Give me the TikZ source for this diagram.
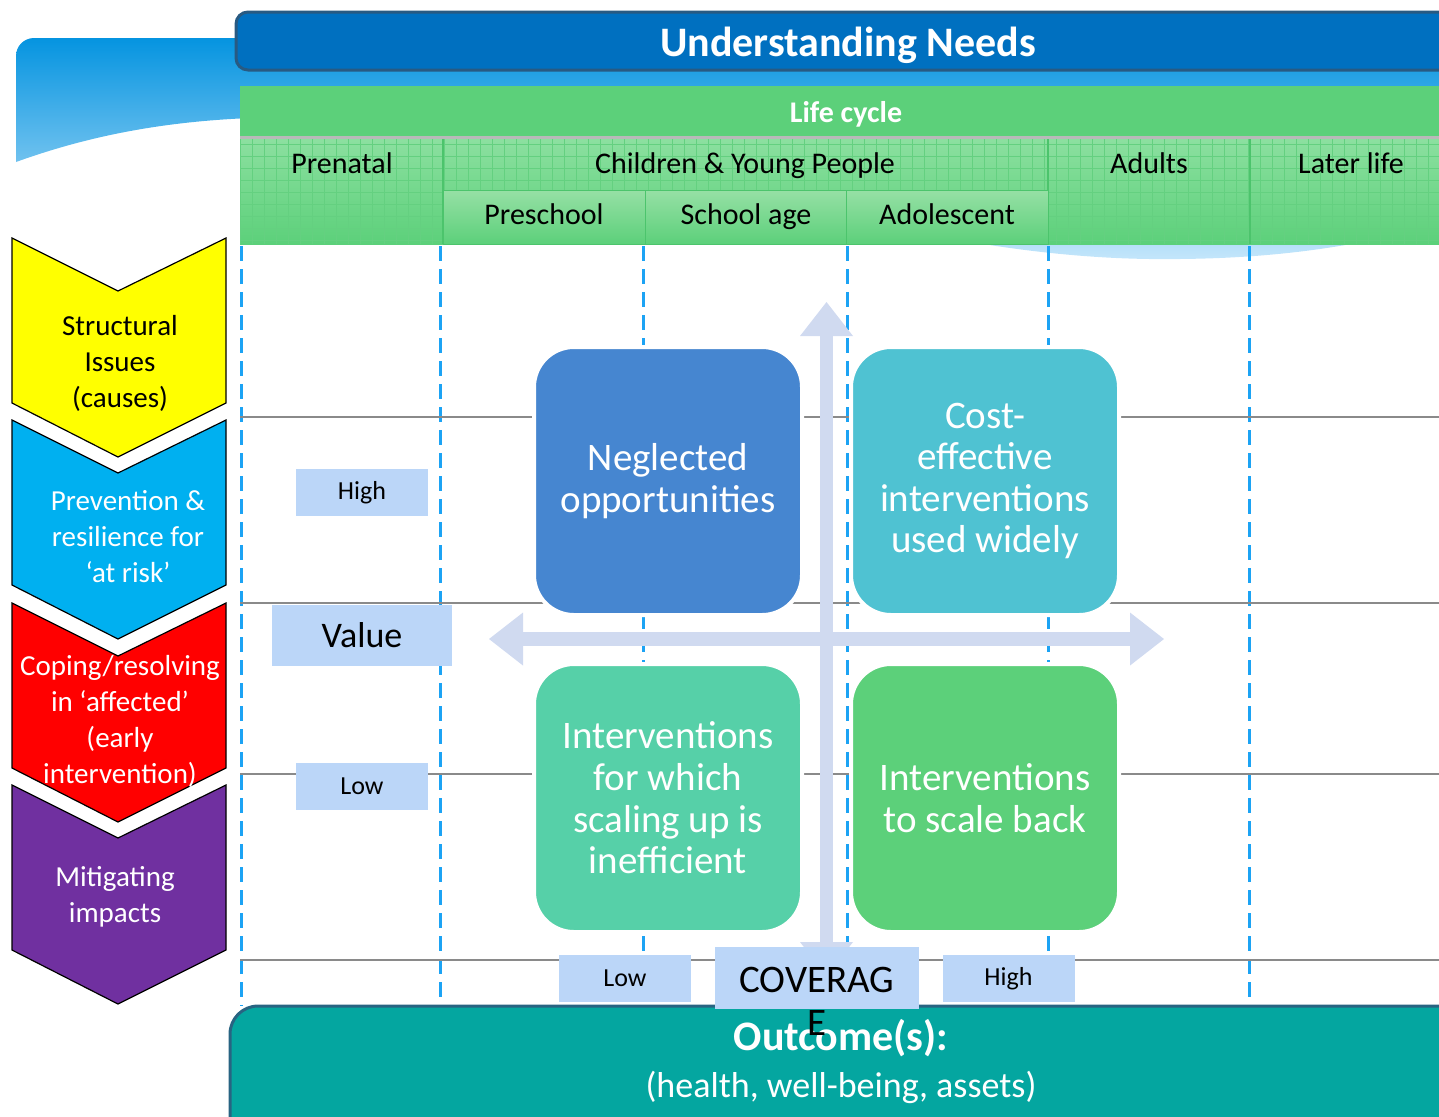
\documentclass[tikz,border=0pt]{standalone}
\usepackage{fontspec}
\setmainfont{Carlito}
\usetikzlibrary{arrows.meta,positioning}

\definecolor{hdrblue}{RGB}{0,112,192}
\definecolor{hdrline}{RGB}{40,90,130}
\definecolor{swtop}{RGB}{5,148,224}
\definecolor{swbot}{RGB}{196,230,251}
\definecolor{lifegreen}{RGB}{92,208,122}
\definecolor{celltop}{RGB}{140,224,160}
\definecolor{gridgreen}{RGB}{100,208,128}
\definecolor{subtop}{RGB}{150,224,165}
\definecolor{sepgreen}{RGB}{76,196,108}
\definecolor{dashblue}{RGB}{28,163,244}
\definecolor{rulegray}{RGB}{138,138,138}
\definecolor{axisblue}{RGB}{208,218,240}
\definecolor{lblblue}{RGB}{187,214,248}
\definecolor{qneglect}{RGB}{70,134,208}
\definecolor{qcost}{RGB}{79,194,210}
\definecolor{qscaleup}{RGB}{86,208,168}
\definecolor{qback}{RGB}{92,208,122}
\definecolor{chyellow}{RGB}{255,255,0}
\definecolor{chblue}{RGB}{0,176,240}
\definecolor{chred}{RGB}{255,0,0}
\definecolor{chpurple}{RGB}{112,48,160}
\definecolor{outteal}{RGB}{4,166,160}
\definecolor{outline}{RGB}{40,100,130}

\begin{document}
\begin{tikzpicture}[x=0.5pt,y=-0.5pt,
    title/.style={text=white, font=\bfseries\fontsize{21}{25}\selectfont},
    stage/.style={font=\fontsize{15}{18}\selectfont, text height=10.5pt, text depth=3pt},
    subcell/.style={stage, top color=subtop, bottom color=lifegreen, draw=sepgreen, line width=0.4pt,
        minimum width=101pt, minimum height=27pt, inner sep=0pt},
    quad/.style={draw=white, line width=2pt, rounded corners=20pt, minimum width=134pt, minimum height=134pt,
        text=white, align=center, inner sep=0pt, font=\fontsize{19.5}{20.8}\selectfont},
    lbl/.style={fill=lblblue, minimum width=66pt, minimum height=23.5pt, inner sep=0pt,
        font=\fontsize{13}{15}\selectfont},
    chevtxt/.style={align=center, font=\fontsize{14.5}{18}\selectfont},
    axis/.style={draw=axisblue, line width=6.75pt,
        {Triangle[width=26.5pt,length=17pt,line width=0pt]}-{Triangle[width=26.5pt,length=17pt,line width=0pt]}},
    ]
\useasboundingbox (0,0) rectangle (1439,1116);
\clip (0,0) rectangle (1439,1116);

% swoosh behind the header
\path[top color=swtop, bottom color=swbot] (16,162) .. controls (110,128) and (200,117) .. (300,117)
    .. controls (600,117) and (850,255) .. (1150,259) .. controls (1260,260) and (1340,250) .. (1439,225)
    -- (1439,38) -- (34,38) .. controls (24,38) and (16,46) .. (16,56) -- cycle;

\draw[hdrline, fill=hdrblue, line width=1.5pt, rounded corners=6pt] (236,12) rectangle (1480,70);
\node[title] (title) at (848,45) {Understanding Needs};

% life cycle bar
\fill[lifegreen] (240,86) rectangle (1439,137);
\node[text=white, font=\bfseries\fontsize{15}{18}\selectfont] (lifecycle) at (846,114) {Life cycle};
\fill[top color=celltop, bottom color=lifegreen] (240,138) rectangle (1439,244);
\draw[gridgreen, line width=0.4pt, step=6pt] (240,138) grid (1439,244);
\draw[gray!55, line width=1.5pt] (240,137.5) -- (1439,137.5);
\foreach \x in {443,1048,1250}
    \draw[sepgreen, line width=0.6pt] (\x,139) -- (\x,244);

\foreach \x/\name/\t in {342/prenatal/Prenatal, 745/cyp/Children \& Young People, 1149/adults/Adults, 1351/later/Later life}
    \node[stage] (\name) at (\x,166) {\t};
\foreach \x/\name/\t in {544/preschool/Preschool, 746/school/School age, 947/adolescent/Adolescent}
    \node[subcell] (\name) at (\x,217) {\t};

% grid of the matrix
\foreach \x in {241,440,643,847,1048,1249}
    \draw[dashblue, line width=1.5pt, dash pattern=on 7.5pt off 4pt] (\x,246) -- (\x,1006);
\foreach \y in {417,603,774,960}
    \draw[rulegray, line width=1pt] (240,\y) -- (1439,\y);

% axes
\coordinate (vtop) at (826.5,302);
\coordinate (vbot) at (826.5,976);
\coordinate (hleft) at (489,639);
\coordinate (hright) at (1164,639);
\draw[axis] (hleft) -- (hright);
\draw[axis] (vbot) -- (vtop);

\node[quad, fill=qneglect] (neglected) at (668,481) {Neglected\\opportunities};
\node[quad, fill=qcost] (costeff) at (985,481) {Cost-\\effective\\interventions\\used widely};
\node[quad, fill=qscaleup] (scaleup) at (668,798) {Interventions\\for which\\scaling up is\\inefficient};
\node[quad, fill=qback] (scaleback) at (985,798) {Interventions\\to scale back};

\node[lbl] (vhigh) at (362,492.5) {High};
\node[lbl, minimum width=90pt, minimum height=30.5pt, font=\fontsize{18}{21}\selectfont] (value) at (362,635.5) {Value};
\node[lbl] (vlow) at (362,786.5) {Low};

% levels of intervention
\foreach \y/\c in {238/chyellow,420/chblue,603/chred,785/chpurple}
    \draw[line width=0.6pt, fill=\c] (12,\y) -- (118,\y+53) -- (226,\y) -- (226,\y+165) -- (118,\y+219) -- (12,\y+165) -- cycle;
\node[chevtxt] (structural) at (120,363) {Structural\\Issues\\(causes)};
\node[chevtxt, text=white] (prevention) at (128,537) {Prevention \&\\resilience for\\‘at risk’};
\node[chevtxt, text=white] (coping) at (120,721) {Coping/resolving\\in ‘affected’\\(early\\intervention)};
\node[chevtxt, text=white] (mitigating) at (115,897) {Mitigating\\impacts};

% outcome
\draw[outline, fill=outteal, line width=1.5pt, rounded corners=14pt] (230,1006) rectangle (1480,1150);
\node[align=center, text=white, font=\fontsize{18}{23.5}\selectfont] (outcome) at (841,1061)
    {{\bfseries\fontsize{21}{23.5}\selectfont Outcome(s):}\\(health, well-being, assets)};

\node[lbl] (clow) at (625,978.5) {Low};
\node[lbl] (chigh) at (1008.5,978.5) {High};
\node[lbl, minimum width=102pt, minimum height=31pt] (coverage) at (817,978) {};
\node[align=center, anchor=north, inner sep=0pt, font=\fontsize{19.5}{21.5}\selectfont] (covtext) at (817,967) {COVERAG\\E};

\end{tikzpicture}
\end{document}
